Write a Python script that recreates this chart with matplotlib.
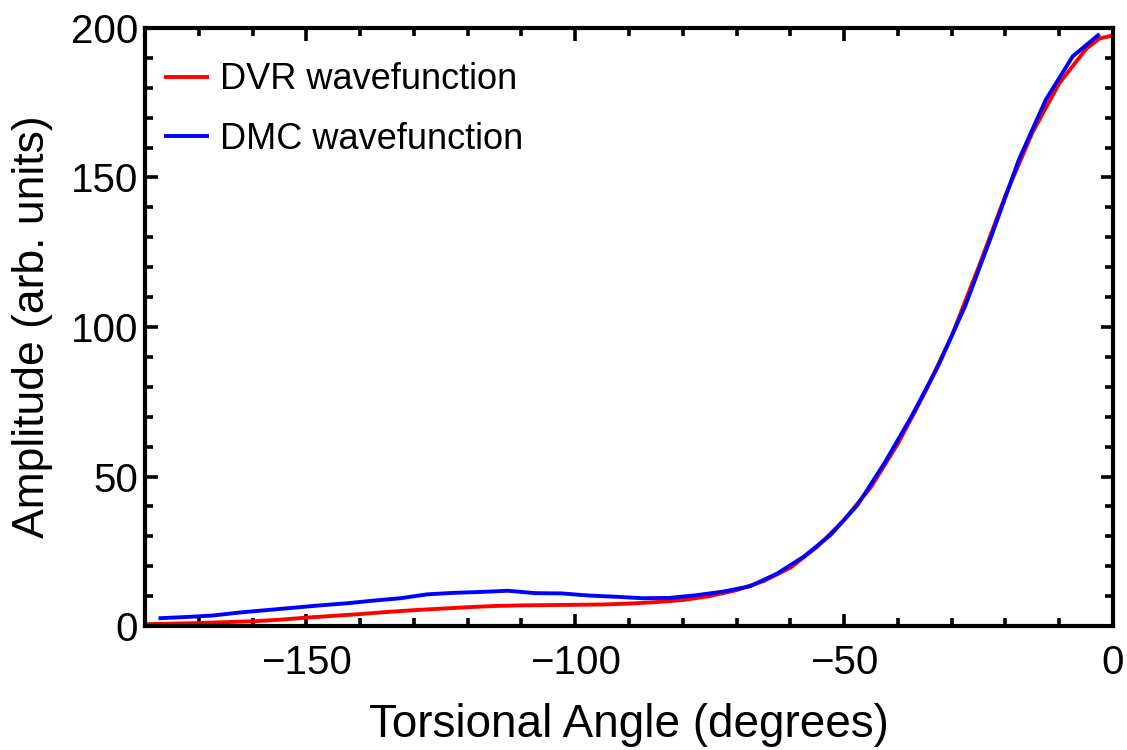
import matplotlib
matplotlib.use("Agg")
import matplotlib.pyplot as plt
from matplotlib.ticker import MultipleLocator

plt.rcParams['font.family'] = ['Liberation Sans', 'DejaVu Sans']

# DVR wavefunction (smooth curve)
dvr_angle = [-180, -175, -170, -165, -160, -155, -150, -145, -140, -135, -130, -125,
             -120, -115, -110, -105, -100, -95, -90, -85, -80, -75, -70, -65, -60,
             -55, -50, -45, -40, -35, -30, -25, -20, -15, -10, -5, -2.5, 0]
dvr_amp = [0.6, 0.8, 1.0, 1.3, 1.6, 2.1, 2.8, 3.4, 4.0, 4.7, 5.3, 5.8,
           6.3, 6.7, 6.9, 7.0, 7.1, 7.2, 7.5, 8.0, 8.7, 10.0, 12.0, 15.0, 19.5,
           26.5, 35.5, 46.5, 61.0, 78.0, 97.0, 120.0, 144.0, 165.0, 181.5, 193.0, 196.5, 197.5]

# DMC wavefunction (5-degree bin centres)
dmc_angle = [-177.5, -172.5, -167.5, -162.5, -157.5, -152.5, -147.5, -142.5, -137.5,
             -132.5, -127.5, -122.5, -117.5, -112.5, -107.5, -102.5, -97.5, -92.5,
             -87.5, -82.5, -77.5, -72.5, -67.5, -62.5, -57.5, -52.5, -47.5, -42.5,
             -37.5, -32.5, -27.5, -22.5, -17.5, -12.5, -7.5, -2.5]
dmc_amp = [2.6, 3.0, 3.5, 4.5, 5.3, 6.1, 6.9, 7.6, 8.5,
           9.3, 10.6, 11.1, 11.4, 11.8, 11.0, 10.9, 10.2, 9.8,
           9.3, 9.4, 10.3, 11.5, 13.3, 17.5, 23.2, 30.5, 40.5, 54.5,
           70.0, 87.0, 107.0, 131.0, 156.0, 176.0, 190.5, 198.0]

fig = plt.figure(figsize=(11.27, 7.5), dpi=100)
ax = fig.add_axes([0.1287, 0.1653, 0.8589, 0.7974])

ax.plot(dvr_angle, dvr_amp, color=(1, 0, 0), lw=2.8, label='DVR wavefunction',
        solid_joinstyle='round', solid_capstyle='butt')
ax.plot(dmc_angle, dmc_amp, color=(0, 0, 1), lw=2.8, label='DMC wavefunction',
        solid_joinstyle='round', solid_capstyle='butt')

ax.set_xlim(-180, 0)
ax.set_ylim(0, 200)
ax.xaxis.set_major_locator(MultipleLocator(50))
ax.xaxis.set_minor_locator(MultipleLocator(10))
ax.yaxis.set_major_locator(MultipleLocator(50))
ax.yaxis.set_minor_locator(MultipleLocator(10))

for s in ax.spines.values():
    s.set_linewidth(3)
ax.tick_params(which='both', direction='in', top=True, right=True, width=2.6)
ax.tick_params(which='major', length=9, labelsize=29)
ax.tick_params(which='minor', length=5.5)
ax.tick_params(axis='x', which='major', pad=13)
ax.tick_params(axis='y', which='major', pad=5)

ax.set_xlabel('Torsional Angle (degrees)', fontsize=33, labelpad=15)
ax.set_ylabel('Amplitude (arb. units)', fontsize=32, labelpad=13)

ax.legend(loc='upper left', frameon=False, fontsize=26, handlelength=1.25,
          handletextpad=0.3, labelspacing=0.68, borderaxespad=0.0,
          bbox_to_anchor=(0.005, 0.967))

fig.savefig('out.png', dpi=100)
